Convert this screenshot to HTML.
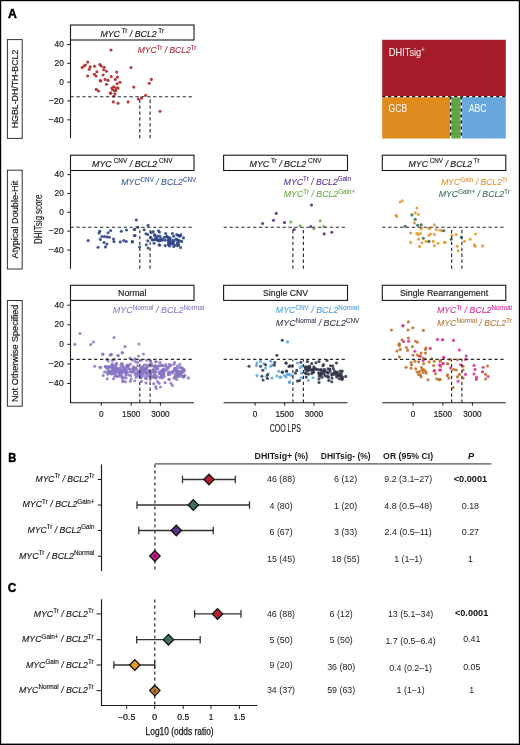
<!DOCTYPE html>
<html><head><meta charset="utf-8"><style>
html,body{margin:0;padding:0;background:#fff;}
svg{display:block;will-change:transform;}
text{font-family:"Liberation Sans", sans-serif;}
</style></head><body>
<svg width="520" height="745" viewBox="0 0 520 745">
<rect x="0" y="0" width="520" height="745" fill="#000"/>
<rect x="1.2" y="1.2" width="517.6" height="742.4" fill="#fff"/>
<text x="8.00" y="18.10" font-size="12.8" fill="#000" text-anchor="start" textLength="8.80" lengthAdjust="spacingAndGlyphs" font-weight="bold" stroke="#000" stroke-width="0.5"><tspan dy="0" font-style="normal">A</tspan></text>
<text x="8.20" y="461.50" font-size="12.8" fill="#000" text-anchor="start" textLength="8.00" lengthAdjust="spacingAndGlyphs" font-weight="bold" stroke="#000" stroke-width="0.5"><tspan dy="0" font-style="normal">B</tspan></text>
<text x="7.80" y="592.30" font-size="12.8" fill="#000" text-anchor="start" textLength="8.50" lengthAdjust="spacingAndGlyphs" font-weight="bold" stroke="#000" stroke-width="0.5"><tspan dy="0" font-style="normal">C</tspan></text>
<rect x="70.50" y="25.00" width="123.50" height="15.00" fill="#fff" stroke="#1a1a1a" stroke-width="1.1"/>
<text x="132.25" y="36.50" font-size="8.8" fill="#1a1a1a" text-anchor="middle" textLength="63.60" lengthAdjust="spacingAndGlyphs" stroke="#1a1a1a" stroke-width="0.15"><tspan dy="0" font-style="italic">MYC</tspan><tspan font-size="6.34" dy="-3.8" font-style="normal"> Tr</tspan><tspan dy="3.8" font-style="italic"> / BCL2</tspan><tspan font-size="6.34" dy="-3.8" font-style="normal"> Tr</tspan></text>
<line x1="70.50" y1="40.00" x2="70.50" y2="138.30" stroke="#1a1a1a" stroke-width="1.1"/>
<line x1="67.30" y1="44.50" x2="70.50" y2="44.50" stroke="#1a1a1a" stroke-width="1"/>
<text x="63.80" y="47.20" font-size="9.3" fill="#1a1a1a" text-anchor="end" textLength="9.20" lengthAdjust="spacingAndGlyphs" stroke="#1a1a1a" stroke-width="0.2"><tspan dy="0" font-style="normal">40</tspan></text>
<line x1="67.30" y1="63.33" x2="70.50" y2="63.33" stroke="#1a1a1a" stroke-width="1"/>
<text x="63.80" y="66.03" font-size="9.3" fill="#1a1a1a" text-anchor="end" textLength="9.20" lengthAdjust="spacingAndGlyphs" stroke="#1a1a1a" stroke-width="0.2"><tspan dy="0" font-style="normal">20</tspan></text>
<line x1="67.30" y1="82.15" x2="70.50" y2="82.15" stroke="#1a1a1a" stroke-width="1"/>
<text x="63.80" y="84.85" font-size="9.3" fill="#1a1a1a" text-anchor="end" textLength="4.60" lengthAdjust="spacingAndGlyphs" stroke="#1a1a1a" stroke-width="0.2"><tspan dy="0" font-style="normal">0</tspan></text>
<line x1="67.30" y1="100.97" x2="70.50" y2="100.97" stroke="#1a1a1a" stroke-width="1"/>
<text x="63.80" y="103.67" font-size="9.3" fill="#1a1a1a" text-anchor="end" textLength="15.20" lengthAdjust="spacingAndGlyphs" stroke="#1a1a1a" stroke-width="0.2"><tspan dy="0" font-style="normal">−20</tspan></text>
<line x1="67.30" y1="119.80" x2="70.50" y2="119.80" stroke="#1a1a1a" stroke-width="1"/>
<text x="63.80" y="122.50" font-size="9.3" fill="#1a1a1a" text-anchor="end" textLength="15.20" lengthAdjust="spacingAndGlyphs" stroke="#1a1a1a" stroke-width="0.2"><tspan dy="0" font-style="normal">−40</tspan></text>
<rect x="70.50" y="155.20" width="123.50" height="15.30" fill="#fff" stroke="#1a1a1a" stroke-width="1.1"/>
<text x="132.25" y="167.00" font-size="8.8" fill="#1a1a1a" text-anchor="middle" textLength="80.60" lengthAdjust="spacingAndGlyphs" stroke="#1a1a1a" stroke-width="0.15"><tspan dy="0" font-style="italic">MYC</tspan><tspan font-size="6.34" dy="-3.8" font-style="normal"> CNV</tspan><tspan dy="3.8" font-style="italic"> / BCL2</tspan><tspan font-size="6.34" dy="-3.8" font-style="normal"> CNV</tspan></text>
<rect x="223.60" y="155.20" width="123.90" height="15.30" fill="#fff" stroke="#1a1a1a" stroke-width="1.1"/>
<text x="285.55" y="167.00" font-size="8.8" fill="#1a1a1a" text-anchor="middle" textLength="72.00" lengthAdjust="spacingAndGlyphs" stroke="#1a1a1a" stroke-width="0.15"><tspan dy="0" font-style="italic">MYC</tspan><tspan font-size="6.34" dy="-3.8" font-style="normal"> Tr</tspan><tspan dy="3.8" font-style="italic"> / BCL2</tspan><tspan font-size="6.34" dy="-3.8" font-style="normal"> CNV</tspan></text>
<rect x="382.30" y="155.20" width="123.50" height="15.30" fill="#fff" stroke="#1a1a1a" stroke-width="1.1"/>
<text x="444.05" y="167.00" font-size="8.8" fill="#1a1a1a" text-anchor="middle" textLength="71.00" lengthAdjust="spacingAndGlyphs" stroke="#1a1a1a" stroke-width="0.15"><tspan dy="0" font-style="italic">MYC</tspan><tspan font-size="6.34" dy="-3.8" font-style="normal"> CNV</tspan><tspan dy="3.8" font-style="italic"> / BCL2</tspan><tspan font-size="6.34" dy="-3.8" font-style="normal"> Tr</tspan></text>
<line x1="70.50" y1="170.50" x2="70.50" y2="268.70" stroke="#1a1a1a" stroke-width="1.1"/>
<line x1="67.30" y1="174.60" x2="70.50" y2="174.60" stroke="#1a1a1a" stroke-width="1"/>
<text x="63.80" y="177.30" font-size="9.3" fill="#1a1a1a" text-anchor="end" textLength="9.20" lengthAdjust="spacingAndGlyphs" stroke="#1a1a1a" stroke-width="0.2"><tspan dy="0" font-style="normal">40</tspan></text>
<line x1="67.30" y1="193.45" x2="70.50" y2="193.45" stroke="#1a1a1a" stroke-width="1"/>
<text x="63.80" y="196.15" font-size="9.3" fill="#1a1a1a" text-anchor="end" textLength="9.20" lengthAdjust="spacingAndGlyphs" stroke="#1a1a1a" stroke-width="0.2"><tspan dy="0" font-style="normal">20</tspan></text>
<line x1="67.30" y1="212.30" x2="70.50" y2="212.30" stroke="#1a1a1a" stroke-width="1"/>
<text x="63.80" y="215.00" font-size="9.3" fill="#1a1a1a" text-anchor="end" textLength="4.60" lengthAdjust="spacingAndGlyphs" stroke="#1a1a1a" stroke-width="0.2"><tspan dy="0" font-style="normal">0</tspan></text>
<line x1="67.30" y1="231.15" x2="70.50" y2="231.15" stroke="#1a1a1a" stroke-width="1"/>
<text x="63.80" y="233.85" font-size="9.3" fill="#1a1a1a" text-anchor="end" textLength="15.20" lengthAdjust="spacingAndGlyphs" stroke="#1a1a1a" stroke-width="0.2"><tspan dy="0" font-style="normal">−20</tspan></text>
<line x1="67.30" y1="250.00" x2="70.50" y2="250.00" stroke="#1a1a1a" stroke-width="1"/>
<text x="63.80" y="252.70" font-size="9.3" fill="#1a1a1a" text-anchor="end" textLength="15.20" lengthAdjust="spacingAndGlyphs" stroke="#1a1a1a" stroke-width="0.2"><tspan dy="0" font-style="normal">−40</tspan></text>
<rect x="70.50" y="285.30" width="123.50" height="15.10" fill="#fff" stroke="#1a1a1a" stroke-width="1.1"/>
<text x="132.25" y="295.60" font-size="8.8" fill="#1a1a1a" text-anchor="middle" textLength="28.50" lengthAdjust="spacingAndGlyphs" stroke="#1a1a1a" stroke-width="0.15"><tspan dy="0" font-style="normal">Normal</tspan></text>
<rect x="223.60" y="285.30" width="123.90" height="15.10" fill="#fff" stroke="#1a1a1a" stroke-width="1.1"/>
<text x="285.55" y="295.60" font-size="8.8" fill="#1a1a1a" text-anchor="middle" textLength="45.00" lengthAdjust="spacingAndGlyphs" stroke="#1a1a1a" stroke-width="0.15"><tspan dy="0" font-style="normal">Single CNV</tspan></text>
<rect x="382.30" y="285.30" width="123.50" height="15.10" fill="#fff" stroke="#1a1a1a" stroke-width="1.1"/>
<text x="444.05" y="295.60" font-size="8.8" fill="#1a1a1a" text-anchor="middle" textLength="88.20" lengthAdjust="spacingAndGlyphs" stroke="#1a1a1a" stroke-width="0.15"><tspan dy="0" font-style="normal">Single Rearrangement</tspan></text>
<line x1="70.50" y1="300.40" x2="70.50" y2="403.20" stroke="#1a1a1a" stroke-width="1.1"/>
<line x1="67.30" y1="305.20" x2="70.50" y2="305.20" stroke="#1a1a1a" stroke-width="1"/>
<text x="63.80" y="307.90" font-size="9.3" fill="#1a1a1a" text-anchor="end" textLength="9.20" lengthAdjust="spacingAndGlyphs" stroke="#1a1a1a" stroke-width="0.2"><tspan dy="0" font-style="normal">40</tspan></text>
<line x1="67.30" y1="324.77" x2="70.50" y2="324.77" stroke="#1a1a1a" stroke-width="1"/>
<text x="63.80" y="327.47" font-size="9.3" fill="#1a1a1a" text-anchor="end" textLength="9.20" lengthAdjust="spacingAndGlyphs" stroke="#1a1a1a" stroke-width="0.2"><tspan dy="0" font-style="normal">20</tspan></text>
<line x1="67.30" y1="344.35" x2="70.50" y2="344.35" stroke="#1a1a1a" stroke-width="1"/>
<text x="63.80" y="347.05" font-size="9.3" fill="#1a1a1a" text-anchor="end" textLength="4.60" lengthAdjust="spacingAndGlyphs" stroke="#1a1a1a" stroke-width="0.2"><tspan dy="0" font-style="normal">0</tspan></text>
<line x1="67.30" y1="363.93" x2="70.50" y2="363.93" stroke="#1a1a1a" stroke-width="1"/>
<text x="63.80" y="366.62" font-size="9.3" fill="#1a1a1a" text-anchor="end" textLength="15.20" lengthAdjust="spacingAndGlyphs" stroke="#1a1a1a" stroke-width="0.2"><tspan dy="0" font-style="normal">−20</tspan></text>
<line x1="67.30" y1="383.50" x2="70.50" y2="383.50" stroke="#1a1a1a" stroke-width="1"/>
<text x="63.80" y="386.20" font-size="9.3" fill="#1a1a1a" text-anchor="end" textLength="15.20" lengthAdjust="spacingAndGlyphs" stroke="#1a1a1a" stroke-width="0.2"><tspan dy="0" font-style="normal">−40</tspan></text>
<line x1="70.50" y1="402.70" x2="194.00" y2="402.70" stroke="#1a1a1a" stroke-width="1.1"/>
<line x1="101.30" y1="402.70" x2="101.30" y2="405.70" stroke="#1a1a1a" stroke-width="1"/>
<text x="101.30" y="416.90" font-size="8.9" fill="#1a1a1a" text-anchor="middle" textLength="4.60" lengthAdjust="spacingAndGlyphs" stroke="#1a1a1a" stroke-width="0.2"><tspan dy="0" font-style="normal">0</tspan></text>
<line x1="131.20" y1="402.70" x2="131.20" y2="405.70" stroke="#1a1a1a" stroke-width="1"/>
<text x="131.20" y="416.90" font-size="8.9" fill="#1a1a1a" text-anchor="middle" textLength="18.20" lengthAdjust="spacingAndGlyphs" stroke="#1a1a1a" stroke-width="0.2"><tspan dy="0" font-style="normal">1500</tspan></text>
<line x1="160.40" y1="402.70" x2="160.40" y2="405.70" stroke="#1a1a1a" stroke-width="1"/>
<text x="160.40" y="416.90" font-size="8.9" fill="#1a1a1a" text-anchor="middle" textLength="18.20" lengthAdjust="spacingAndGlyphs" stroke="#1a1a1a" stroke-width="0.2"><tspan dy="0" font-style="normal">3000</tspan></text>
<line x1="223.60" y1="402.70" x2="347.50" y2="402.70" stroke="#1a1a1a" stroke-width="1.1"/>
<line x1="255.10" y1="402.70" x2="255.10" y2="405.70" stroke="#1a1a1a" stroke-width="1"/>
<text x="255.10" y="416.90" font-size="8.9" fill="#1a1a1a" text-anchor="middle" textLength="4.60" lengthAdjust="spacingAndGlyphs" stroke="#1a1a1a" stroke-width="0.2"><tspan dy="0" font-style="normal">0</tspan></text>
<line x1="284.60" y1="402.70" x2="284.60" y2="405.70" stroke="#1a1a1a" stroke-width="1"/>
<text x="284.60" y="416.90" font-size="8.9" fill="#1a1a1a" text-anchor="middle" textLength="18.20" lengthAdjust="spacingAndGlyphs" stroke="#1a1a1a" stroke-width="0.2"><tspan dy="0" font-style="normal">1500</tspan></text>
<line x1="313.90" y1="402.70" x2="313.90" y2="405.70" stroke="#1a1a1a" stroke-width="1"/>
<text x="313.90" y="416.90" font-size="8.9" fill="#1a1a1a" text-anchor="middle" textLength="18.20" lengthAdjust="spacingAndGlyphs" stroke="#1a1a1a" stroke-width="0.2"><tspan dy="0" font-style="normal">3000</tspan></text>
<line x1="382.30" y1="402.70" x2="505.80" y2="402.70" stroke="#1a1a1a" stroke-width="1.1"/>
<line x1="413.10" y1="402.70" x2="413.10" y2="405.70" stroke="#1a1a1a" stroke-width="1"/>
<text x="413.10" y="416.90" font-size="8.9" fill="#1a1a1a" text-anchor="middle" textLength="4.60" lengthAdjust="spacingAndGlyphs" stroke="#1a1a1a" stroke-width="0.2"><tspan dy="0" font-style="normal">0</tspan></text>
<line x1="442.90" y1="402.70" x2="442.90" y2="405.70" stroke="#1a1a1a" stroke-width="1"/>
<text x="442.90" y="416.90" font-size="8.9" fill="#1a1a1a" text-anchor="middle" textLength="18.20" lengthAdjust="spacingAndGlyphs" stroke="#1a1a1a" stroke-width="0.2"><tspan dy="0" font-style="normal">1500</tspan></text>
<line x1="472.40" y1="402.70" x2="472.40" y2="405.70" stroke="#1a1a1a" stroke-width="1"/>
<text x="472.40" y="416.90" font-size="8.9" fill="#1a1a1a" text-anchor="middle" textLength="18.20" lengthAdjust="spacingAndGlyphs" stroke="#1a1a1a" stroke-width="0.2"><tspan dy="0" font-style="normal">3000</tspan></text>
<text x="285.30" y="431.70" font-size="10.0" fill="#1a1a1a" text-anchor="middle" textLength="31.00" lengthAdjust="spacingAndGlyphs" stroke="#1a1a1a" stroke-width="0.15"><tspan dy="0" font-style="normal">COO LPS</tspan></text>
<rect x="7.40" y="39.60" width="14.80" height="98.80" fill="none" stroke="#333" stroke-width="1.0"/>
<text transform="translate(18.10,89.00) rotate(-90)" font-size="9.2" fill="#1a1a1a" stroke="#1a1a1a" stroke-width="0.2" text-anchor="middle" textLength="78.6" lengthAdjust="spacingAndGlyphs">HGBL-DH/TH-BCL2</text>
<rect x="7.40" y="170.20" width="14.80" height="98.80" fill="none" stroke="#333" stroke-width="1.0"/>
<text transform="translate(18.10,219.60) rotate(-90)" font-size="9.2" fill="#1a1a1a" stroke="#1a1a1a" stroke-width="0.2" text-anchor="middle" textLength="77.6" lengthAdjust="spacingAndGlyphs">Atypical Double-Hit</text>
<rect x="7.40" y="300.50" width="14.80" height="105.70" fill="none" stroke="#333" stroke-width="1.0"/>
<text transform="translate(18.10,353.35) rotate(-90)" font-size="9.2" fill="#1a1a1a" stroke="#1a1a1a" stroke-width="0.2" text-anchor="middle" textLength="97.3" lengthAdjust="spacingAndGlyphs">Not Otherwise Specified</text>
<text transform="translate(41.80,219.30) rotate(-90)" font-size="10.2" fill="#1a1a1a" stroke="#1a1a1a" stroke-width="0.15" text-anchor="middle" textLength="49.4" lengthAdjust="spacingAndGlyphs">DHITsig score</text>
<rect x="382.20" y="39.80" width="123.60" height="56.80" fill="#a51b2a" stroke="none" stroke-width="1"/>
<rect x="382.20" y="96.60" width="68.50" height="41.90" fill="#dd8a1f" stroke="none" stroke-width="1"/>
<rect x="450.70" y="96.60" width="10.60" height="41.90" fill="#60a646" stroke="none" stroke-width="1"/>
<rect x="461.30" y="96.60" width="44.50" height="41.90" fill="#6aa7dc" stroke="none" stroke-width="1"/>
<line x1="382.20" y1="96.60" x2="505.80" y2="96.60" stroke="#fff" stroke-width="1.4"/>
<line x1="382.20" y1="96.60" x2="505.80" y2="96.60" stroke="#111" stroke-width="1.4" stroke-dasharray="3,3"/>
<line x1="450.70" y1="96.60" x2="450.70" y2="138.50" stroke="#fff" stroke-width="1.4"/>
<line x1="450.70" y1="96.60" x2="450.70" y2="138.50" stroke="#111" stroke-width="1.4" stroke-dasharray="3,3"/>
<line x1="461.30" y1="96.60" x2="461.30" y2="138.50" stroke="#fff" stroke-width="1.4"/>
<line x1="461.30" y1="96.60" x2="461.30" y2="138.50" stroke="#111" stroke-width="1.4" stroke-dasharray="3,3"/>
<text x="388.80" y="55.80" font-size="10.4" fill="#fff" text-anchor="start" textLength="36.00" lengthAdjust="spacingAndGlyphs"><tspan dy="0" font-style="normal">DHITsig</tspan><tspan font-size="6.76" dy="-3.6" font-style="normal">+</tspan></text>
<text x="388.60" y="111.80" font-size="10.0" fill="#fff" text-anchor="start" textLength="18.50" lengthAdjust="spacingAndGlyphs"><tspan dy="0" font-style="normal">GCB</tspan></text>
<text x="468.80" y="111.60" font-size="10.0" fill="#fff" text-anchor="start" textLength="17.80" lengthAdjust="spacingAndGlyphs"><tspan dy="0" font-style="normal">ABC</tspan></text>
<line x1="101.50" y1="464.50" x2="101.50" y2="571.10" stroke="#1a1a1a" stroke-width="1.15"/>
<line x1="97.90" y1="479.50" x2="101.50" y2="479.50" stroke="#1a1a1a" stroke-width="1"/>
<line x1="97.90" y1="505.00" x2="101.50" y2="505.00" stroke="#1a1a1a" stroke-width="1"/>
<line x1="97.90" y1="530.50" x2="101.50" y2="530.50" stroke="#1a1a1a" stroke-width="1"/>
<line x1="97.90" y1="556.20" x2="101.50" y2="556.20" stroke="#1a1a1a" stroke-width="1"/>
<line x1="155.00" y1="463.80" x2="491.40" y2="463.80" stroke="#555" stroke-width="1.3"/>
<line x1="182.50" y1="479.50" x2="235.30" y2="479.50" stroke="#333" stroke-width="1.3"/>
<line x1="182.50" y1="475.70" x2="182.50" y2="483.30" stroke="#333" stroke-width="1.3"/>
<line x1="235.30" y1="475.70" x2="235.30" y2="483.30" stroke="#333" stroke-width="1.3"/>
<path d="M209.00,474.20 L214.20,479.50 L209.00,484.80 L203.80,479.50 Z" fill="#b3202f" stroke="#111" stroke-width="1.3" stroke-linejoin="miter"/>
<line x1="137.00" y1="505.00" x2="249.50" y2="505.00" stroke="#333" stroke-width="1.3"/>
<line x1="137.00" y1="501.20" x2="137.00" y2="508.80" stroke="#333" stroke-width="1.3"/>
<line x1="249.50" y1="501.20" x2="249.50" y2="508.80" stroke="#333" stroke-width="1.3"/>
<path d="M193.30,499.70 L198.50,505.00 L193.30,510.30 L188.10,505.00 Z" fill="#3d7256" stroke="#111" stroke-width="1.3" stroke-linejoin="miter"/>
<line x1="138.80" y1="530.50" x2="213.30" y2="530.50" stroke="#333" stroke-width="1.3"/>
<line x1="138.80" y1="526.70" x2="138.80" y2="534.30" stroke="#333" stroke-width="1.3"/>
<line x1="213.30" y1="526.70" x2="213.30" y2="534.30" stroke="#333" stroke-width="1.3"/>
<path d="M176.30,525.20 L181.50,530.50 L176.30,535.80 L171.10,530.50 Z" fill="#5c3187" stroke="#111" stroke-width="1.3" stroke-linejoin="miter"/>
<path d="M154.90,550.70 L160.10,556.00 L154.90,561.30 L149.70,556.00 Z" fill="#d0198f" stroke="#111" stroke-width="1.3" stroke-linejoin="miter"/>
<line x1="154.90" y1="464.50" x2="154.90" y2="571.40" stroke="#1a1a1a" stroke-width="1.15" stroke-dasharray="3,3"/>
<text x="94.40" y="481.70" font-size="9.0" fill="#111" text-anchor="end" textLength="58.90" lengthAdjust="spacingAndGlyphs" stroke="#111" stroke-width="0.12"><tspan dy="0" font-style="italic">MYC</tspan><tspan font-size="6.48" dy="-3.4" font-style="normal">Tr</tspan><tspan dy="3.4" font-style="italic"> / BCL2</tspan><tspan font-size="6.48" dy="-3.4" font-style="normal">Tr</tspan></text>
<text x="94.40" y="507.40" font-size="9.0" fill="#111" text-anchor="end" textLength="71.90" lengthAdjust="spacingAndGlyphs" stroke="#111" stroke-width="0.12"><tspan dy="0" font-style="italic">MYC</tspan><tspan font-size="6.48" dy="-3.4" font-style="normal">Tr</tspan><tspan dy="3.4" font-style="italic"> / BCL2</tspan><tspan font-size="6.48" dy="-3.4" font-style="normal">Gain+</tspan></text>
<text x="94.40" y="532.70" font-size="9.0" fill="#111" text-anchor="end" textLength="66.90" lengthAdjust="spacingAndGlyphs" stroke="#111" stroke-width="0.12"><tspan dy="0" font-style="italic">MYC</tspan><tspan font-size="6.48" dy="-3.4" font-style="normal">Tr</tspan><tspan dy="3.4" font-style="italic"> / BCL2</tspan><tspan font-size="6.48" dy="-3.4" font-style="normal">Gain</tspan></text>
<text x="94.40" y="558.50" font-size="9.0" fill="#111" text-anchor="end" textLength="75.40" lengthAdjust="spacingAndGlyphs" stroke="#111" stroke-width="0.12"><tspan dy="0" font-style="italic">MYC</tspan><tspan font-size="6.48" dy="-3.4" font-style="normal">Tr</tspan><tspan dy="3.4" font-style="italic"> / BCL2</tspan><tspan font-size="6.48" dy="-3.4" font-style="normal">Normal</tspan></text>
<text x="281.40" y="458.50" font-size="8.7" fill="#1a1a1a" text-anchor="middle" textLength="53.60" lengthAdjust="spacingAndGlyphs" font-weight="bold"><tspan dy="0" font-style="normal">DHITsig+ (%)</tspan></text>
<text x="345.70" y="458.50" font-size="8.7" fill="#1a1a1a" text-anchor="middle" textLength="49.90" lengthAdjust="spacingAndGlyphs" font-weight="bold"><tspan dy="0" font-style="normal">DHITsig- (%)</tspan></text>
<text x="408.10" y="458.50" font-size="8.7" fill="#1a1a1a" text-anchor="middle" textLength="50.00" lengthAdjust="spacingAndGlyphs" font-weight="bold"><tspan dy="0" font-style="normal">OR (95% CI)</tspan></text>
<text x="471.10" y="458.50" font-size="9.2" fill="#111" text-anchor="middle" font-style="italic" font-weight="bold"><tspan dy="0" font-style="italic">P</tspan></text>
<text x="281.10" y="482.40" font-size="8.9" fill="#222" text-anchor="middle"><tspan dy="0" font-style="normal">46 (88)</tspan></text>
<text x="345.60" y="482.40" font-size="8.9" fill="#222" text-anchor="middle"><tspan dy="0" font-style="normal">6 (12)</tspan></text>
<text x="408.20" y="482.40" font-size="8.9" fill="#222" text-anchor="middle"><tspan dy="0" font-style="normal">9.2 (3.1–27)</tspan></text>
<text x="470.40" y="482.40" font-size="9.0" fill="#111" text-anchor="middle" textLength="33.40" lengthAdjust="spacingAndGlyphs" font-weight="bold"><tspan dy="0" font-style="normal">&lt;0.0001</tspan></text>
<text x="281.10" y="508.80" font-size="8.9" fill="#222" text-anchor="middle"><tspan dy="0" font-style="normal">4 (80)</tspan></text>
<text x="345.60" y="508.80" font-size="8.9" fill="#222" text-anchor="middle"><tspan dy="0" font-style="normal">1 (20)</tspan></text>
<text x="408.20" y="508.80" font-size="8.9" fill="#222" text-anchor="middle"><tspan dy="0" font-style="normal">4.8 (0.5–48)</tspan></text>
<text x="470.40" y="508.80" font-size="8.9" fill="#222" text-anchor="middle"><tspan dy="0" font-style="normal">0.18</tspan></text>
<text x="281.10" y="535.40" font-size="8.9" fill="#222" text-anchor="middle"><tspan dy="0" font-style="normal">6 (67)</tspan></text>
<text x="345.60" y="535.40" font-size="8.9" fill="#222" text-anchor="middle"><tspan dy="0" font-style="normal">3 (33)</tspan></text>
<text x="408.20" y="535.40" font-size="8.9" fill="#222" text-anchor="middle"><tspan dy="0" font-style="normal">2.4 (0.5–11)</tspan></text>
<text x="470.40" y="535.40" font-size="8.9" fill="#222" text-anchor="middle"><tspan dy="0" font-style="normal">0.27</tspan></text>
<text x="281.10" y="561.70" font-size="8.9" fill="#222" text-anchor="middle"><tspan dy="0" font-style="normal">15 (45)</tspan></text>
<text x="345.60" y="561.70" font-size="8.9" fill="#222" text-anchor="middle"><tspan dy="0" font-style="normal">18 (55)</tspan></text>
<text x="408.20" y="561.70" font-size="8.9" fill="#222" text-anchor="middle"><tspan dy="0" font-style="normal">1 (1–1)</tspan></text>
<text x="470.40" y="561.70" font-size="8.9" fill="#222" text-anchor="middle"><tspan dy="0" font-style="normal">1</tspan></text>
<line x1="101.50" y1="599.30" x2="101.50" y2="706.00" stroke="#1a1a1a" stroke-width="1.15"/>
<line x1="101.00" y1="705.50" x2="257.40" y2="705.50" stroke="#1a1a1a" stroke-width="1.15"/>
<line x1="96.60" y1="613.90" x2="101.50" y2="613.90" stroke="#1a1a1a" stroke-width="1"/>
<line x1="96.60" y1="639.70" x2="101.50" y2="639.70" stroke="#1a1a1a" stroke-width="1"/>
<line x1="96.60" y1="665.00" x2="101.50" y2="665.00" stroke="#1a1a1a" stroke-width="1"/>
<line x1="96.60" y1="690.60" x2="101.50" y2="690.60" stroke="#1a1a1a" stroke-width="1"/>
<line x1="194.60" y1="613.90" x2="241.00" y2="613.90" stroke="#333" stroke-width="1.3"/>
<line x1="194.60" y1="610.10" x2="194.60" y2="617.70" stroke="#333" stroke-width="1.3"/>
<line x1="241.00" y1="610.10" x2="241.00" y2="617.70" stroke="#333" stroke-width="1.3"/>
<path d="M217.50,608.60 L222.70,613.90 L217.50,619.20 L212.30,613.90 Z" fill="#b3202f" stroke="#111" stroke-width="1.3" stroke-linejoin="miter"/>
<line x1="136.70" y1="639.70" x2="200.20" y2="639.70" stroke="#333" stroke-width="1.3"/>
<line x1="136.70" y1="635.90" x2="136.70" y2="643.50" stroke="#333" stroke-width="1.3"/>
<line x1="200.20" y1="635.90" x2="200.20" y2="643.50" stroke="#333" stroke-width="1.3"/>
<path d="M168.50,634.40 L173.70,639.70 L168.50,645.00 L163.30,639.70 Z" fill="#3d7256" stroke="#111" stroke-width="1.3" stroke-linejoin="miter"/>
<line x1="113.90" y1="665.00" x2="154.70" y2="665.00" stroke="#333" stroke-width="1.3"/>
<line x1="113.90" y1="661.20" x2="113.90" y2="668.80" stroke="#333" stroke-width="1.3"/>
<line x1="154.70" y1="661.20" x2="154.70" y2="668.80" stroke="#333" stroke-width="1.3"/>
<path d="M134.80,659.70 L140.00,665.00 L134.80,670.30 L129.60,665.00 Z" fill="#e69a25" stroke="#111" stroke-width="1.3" stroke-linejoin="miter"/>
<path d="M154.80,685.30 L160.00,690.60 L154.80,695.90 L149.60,690.60 Z" fill="#c47d26" stroke="#111" stroke-width="1.3" stroke-linejoin="miter"/>
<line x1="154.80" y1="599.50" x2="154.80" y2="705.50" stroke="#1a1a1a" stroke-width="1.15" stroke-dasharray="3,3"/>
<line x1="126.60" y1="705.50" x2="126.60" y2="708.90" stroke="#1a1a1a" stroke-width="1"/>
<text x="126.60" y="720.30" font-size="8.8" fill="#111" text-anchor="middle" textLength="17.50" lengthAdjust="spacingAndGlyphs" stroke="#111" stroke-width="0.2"><tspan dy="0" font-style="normal">−0.5</tspan></text>
<line x1="154.70" y1="705.50" x2="154.70" y2="708.90" stroke="#1a1a1a" stroke-width="1"/>
<text x="154.70" y="720.30" font-size="8.8" fill="#111" text-anchor="middle" textLength="5.20" lengthAdjust="spacingAndGlyphs" stroke="#111" stroke-width="0.2"><tspan dy="0" font-style="normal">0</tspan></text>
<line x1="183.20" y1="705.50" x2="183.20" y2="708.90" stroke="#1a1a1a" stroke-width="1"/>
<text x="183.20" y="720.30" font-size="8.8" fill="#111" text-anchor="middle" textLength="12.00" lengthAdjust="spacingAndGlyphs" stroke="#111" stroke-width="0.2"><tspan dy="0" font-style="normal">0.5</tspan></text>
<line x1="211.00" y1="705.50" x2="211.00" y2="708.90" stroke="#1a1a1a" stroke-width="1"/>
<text x="211.00" y="720.30" font-size="8.8" fill="#111" text-anchor="middle" textLength="4.50" lengthAdjust="spacingAndGlyphs" stroke="#111" stroke-width="0.2"><tspan dy="0" font-style="normal">1</tspan></text>
<line x1="239.40" y1="705.50" x2="239.40" y2="708.90" stroke="#1a1a1a" stroke-width="1"/>
<text x="239.40" y="720.30" font-size="8.8" fill="#111" text-anchor="middle" textLength="12.00" lengthAdjust="spacingAndGlyphs" stroke="#111" stroke-width="0.2"><tspan dy="0" font-style="normal">1.5</tspan></text>
<text x="179.60" y="734.60" font-size="10.4" fill="#111" text-anchor="middle" textLength="68.00" lengthAdjust="spacingAndGlyphs" stroke="#111" stroke-width="0.25"><tspan dy="0" font-style="normal">Log10 (odds ratio)</tspan></text>
<text x="93.60" y="616.60" font-size="9.0" fill="#111" text-anchor="end" textLength="59.80" lengthAdjust="spacingAndGlyphs" stroke="#111" stroke-width="0.12"><tspan dy="0" font-style="italic">MYC</tspan><tspan font-size="6.48" dy="-3.4" font-style="normal">Tr</tspan><tspan dy="3.4" font-style="italic"> / BCL2</tspan><tspan font-size="6.48" dy="-3.4" font-style="normal">Tr</tspan></text>
<text x="93.60" y="642.10" font-size="9.0" fill="#111" text-anchor="end" textLength="71.60" lengthAdjust="spacingAndGlyphs" stroke="#111" stroke-width="0.12"><tspan dy="0" font-style="italic">MYC</tspan><tspan font-size="6.48" dy="-3.4" font-style="normal">Gain+</tspan><tspan dy="3.4" font-style="italic"> / BCL2</tspan><tspan font-size="6.48" dy="-3.4" font-style="normal">Tr</tspan></text>
<text x="93.60" y="667.70" font-size="9.0" fill="#111" text-anchor="end" textLength="67.60" lengthAdjust="spacingAndGlyphs" stroke="#111" stroke-width="0.12"><tspan dy="0" font-style="italic">MYC</tspan><tspan font-size="6.48" dy="-3.4" font-style="normal">Gain</tspan><tspan dy="3.4" font-style="italic"> / BCL2</tspan><tspan font-size="6.48" dy="-3.4" font-style="normal">Tr</tspan></text>
<text x="93.60" y="692.80" font-size="9.0" fill="#111" text-anchor="end" textLength="74.60" lengthAdjust="spacingAndGlyphs" stroke="#111" stroke-width="0.12"><tspan dy="0" font-style="italic">MYC</tspan><tspan font-size="6.48" dy="-3.4" font-style="normal">Normal</tspan><tspan dy="3.4" font-style="italic"> / BCL2</tspan><tspan font-size="6.48" dy="-3.4" font-style="normal">Tr</tspan></text>
<text x="281.00" y="616.50" font-size="8.9" fill="#222" text-anchor="middle"><tspan dy="0" font-style="normal">46 (88)</tspan></text>
<text x="341.20" y="617.30" font-size="8.9" fill="#222" text-anchor="middle"><tspan dy="0" font-style="normal">6 (12)</tspan></text>
<text x="410.60" y="616.50" font-size="8.9" fill="#222" text-anchor="middle"><tspan dy="0" font-style="normal">13 (5.1–34)</tspan></text>
<text x="471.60" y="616.30" font-size="9.0" fill="#111" text-anchor="middle" textLength="33.30" lengthAdjust="spacingAndGlyphs" font-weight="bold"><tspan dy="0" font-style="normal">&lt;0.0001</tspan></text>
<text x="281.00" y="642.50" font-size="8.9" fill="#222" text-anchor="middle"><tspan dy="0" font-style="normal">5 (50)</tspan></text>
<text x="341.20" y="643.30" font-size="8.9" fill="#222" text-anchor="middle"><tspan dy="0" font-style="normal">5 (50)</tspan></text>
<text x="410.60" y="644.30" font-size="8.9" fill="#222" text-anchor="middle"><tspan dy="0" font-style="normal">1.7 (0.5–6.4)</tspan></text>
<text x="471.80" y="642.20" font-size="8.9" fill="#222" text-anchor="middle"><tspan dy="0" font-style="normal">0.41</tspan></text>
<text x="281.00" y="667.60" font-size="8.9" fill="#222" text-anchor="middle"><tspan dy="0" font-style="normal">9 (20)</tspan></text>
<text x="341.20" y="669.80" font-size="8.9" fill="#222" text-anchor="middle"><tspan dy="0" font-style="normal">36 (80)</tspan></text>
<text x="410.60" y="670.60" font-size="8.9" fill="#222" text-anchor="middle"><tspan dy="0" font-style="normal">0.4 (0.2–1)</tspan></text>
<text x="471.80" y="669.80" font-size="8.9" fill="#222" text-anchor="middle"><tspan dy="0" font-style="normal">0.05</tspan></text>
<text x="281.00" y="693.00" font-size="8.9" fill="#222" text-anchor="middle"><tspan dy="0" font-style="normal">34 (37)</tspan></text>
<text x="341.20" y="693.00" font-size="8.9" fill="#222" text-anchor="middle"><tspan dy="0" font-style="normal">59 (63)</tspan></text>
<text x="410.60" y="693.00" font-size="8.9" fill="#222" text-anchor="middle"><tspan dy="0" font-style="normal">1 (1–1)</tspan></text>
<text x="471.80" y="693.00" font-size="8.9" fill="#222" text-anchor="middle"><tspan dy="0" font-style="normal">1</tspan></text>
<g fill="#b02a2a" fill-opacity="0.92"><circle cx="111.0" cy="50.0" r="1.55"/><circle cx="87.7" cy="62.1" r="1.55"/><circle cx="85.4" cy="65.0" r="1.55"/><circle cx="84.0" cy="66.0" r="1.55"/><circle cx="82.1" cy="67.5" r="1.55"/><circle cx="90.2" cy="66.9" r="1.55"/><circle cx="89.2" cy="69.2" r="1.55"/><circle cx="94.6" cy="66.3" r="1.55"/><circle cx="99.8" cy="64.6" r="1.55"/><circle cx="101.2" cy="66.0" r="1.55"/><circle cx="104.2" cy="67.3" r="1.55"/><circle cx="103.7" cy="69.8" r="1.55"/><circle cx="106.5" cy="71.3" r="1.55"/><circle cx="96.9" cy="71.7" r="1.55"/><circle cx="87.7" cy="76.0" r="1.55"/><circle cx="94.4" cy="74.2" r="1.55"/><circle cx="96.0" cy="76.0" r="1.55"/><circle cx="103.1" cy="75.0" r="1.55"/><circle cx="116.7" cy="72.1" r="1.55"/><circle cx="111.3" cy="76.5" r="1.55"/><circle cx="117.5" cy="77.1" r="1.55"/><circle cx="115.2" cy="79.4" r="1.55"/><circle cx="100.8" cy="81.0" r="1.55"/><circle cx="100.2" cy="80.6" r="1.55"/><circle cx="105.2" cy="79.4" r="1.55"/><circle cx="108.1" cy="80.4" r="1.55"/><circle cx="106.5" cy="84.2" r="1.55"/><circle cx="117.1" cy="83.8" r="1.55"/><circle cx="120.0" cy="82.3" r="1.55"/><circle cx="96.3" cy="89.4" r="1.55"/><circle cx="98.5" cy="91.0" r="1.55"/><circle cx="113.8" cy="86.7" r="1.55"/><circle cx="111.9" cy="88.1" r="1.55"/><circle cx="116.2" cy="88.1" r="1.55"/><circle cx="118.1" cy="88.1" r="1.55"/><circle cx="114.6" cy="91.0" r="1.55"/><circle cx="110.4" cy="92.9" r="1.55"/><circle cx="113.8" cy="96.2" r="1.55"/><circle cx="115.6" cy="90.4" r="1.55"/><circle cx="131.0" cy="67.5" r="1.55"/><circle cx="133.8" cy="87.1" r="1.55"/><circle cx="151.3" cy="79.4" r="1.55"/><circle cx="149.2" cy="83.3" r="1.55"/><circle cx="145.6" cy="95.2" r="1.55"/><circle cx="138.3" cy="99.0" r="1.55"/><circle cx="141.5" cy="98.1" r="1.55"/><circle cx="113.3" cy="101.9" r="1.55"/><circle cx="118.1" cy="103.3" r="1.55"/><circle cx="128.1" cy="101.9" r="1.55"/><circle cx="160.0" cy="111.3" r="1.55"/><circle cx="110.8" cy="93.3" r="1.55"/><circle cx="112.5" cy="89.5" r="1.55"/><circle cx="115.0" cy="94.0" r="1.55"/></g>
<g fill="#2e4788" fill-opacity="0.9"><circle cx="88.1" cy="240.6" r="1.55"/><circle cx="99.8" cy="231.3" r="1.55"/><circle cx="99.0" cy="233.1" r="1.55"/><circle cx="108.1" cy="232.8" r="1.55"/><circle cx="110.6" cy="230.6" r="1.55"/><circle cx="121.3" cy="231.3" r="1.55"/><circle cx="126.5" cy="230.0" r="1.55"/><circle cx="134.4" cy="229.4" r="1.55"/><circle cx="101.9" cy="236.5" r="1.55"/><circle cx="104.4" cy="236.5" r="1.55"/><circle cx="106.9" cy="236.9" r="1.55"/><circle cx="109.4" cy="237.3" r="1.55"/><circle cx="100.3" cy="239.4" r="1.55"/><circle cx="113.5" cy="239.0" r="1.55"/><circle cx="114.0" cy="241.5" r="1.55"/><circle cx="120.3" cy="241.9" r="1.55"/><circle cx="123.8" cy="240.6" r="1.55"/><circle cx="126.3" cy="241.5" r="1.55"/><circle cx="132.3" cy="241.9" r="1.55"/><circle cx="104.0" cy="242.5" r="1.55"/><circle cx="106.9" cy="244.0" r="1.55"/><circle cx="98.1" cy="247.3" r="1.55"/><circle cx="105.4" cy="246.9" r="1.55"/><circle cx="134.4" cy="235.6" r="1.55"/><circle cx="136.3" cy="219.9" r="1.55"/><circle cx="137.7" cy="227.3" r="1.55"/><circle cx="134.6" cy="229.5" r="1.55"/><circle cx="148.1" cy="225.4" r="1.55"/><circle cx="144.2" cy="229.7" r="1.55"/><circle cx="135.0" cy="235.5" r="1.55"/><circle cx="132.4" cy="241.5" r="1.55"/><circle cx="145.9" cy="233.8" r="1.55"/><circle cx="147.8" cy="234.5" r="1.55"/><circle cx="147.8" cy="240.8" r="1.55"/><circle cx="146.3" cy="244.8" r="1.55"/><circle cx="139.6" cy="247.0" r="1.55"/><circle cx="148.1" cy="248.0" r="1.55"/><circle cx="153.2" cy="231.6" r="1.55"/><circle cx="158.5" cy="230.7" r="1.55"/><circle cx="159.4" cy="232.1" r="1.55"/><circle cx="165.7" cy="233.5" r="1.55"/><circle cx="172.4" cy="233.5" r="1.55"/><circle cx="178.2" cy="235.5" r="1.55"/><circle cx="183.5" cy="237.9" r="1.55"/><circle cx="154.6" cy="234.5" r="1.55"/><circle cx="150.8" cy="237.4" r="1.55"/><circle cx="152.2" cy="239.8" r="1.55"/><circle cx="156.5" cy="237.9" r="1.55"/><circle cx="159.9" cy="236.4" r="1.55"/><circle cx="161.3" cy="238.8" r="1.55"/><circle cx="158.5" cy="240.8" r="1.55"/><circle cx="154.1" cy="243.2" r="1.55"/><circle cx="164.2" cy="237.4" r="1.55"/><circle cx="167.1" cy="236.4" r="1.55"/><circle cx="168.1" cy="239.8" r="1.55"/><circle cx="170.0" cy="237.9" r="1.55"/><circle cx="169.0" cy="242.7" r="1.55"/><circle cx="165.2" cy="245.6" r="1.55"/><circle cx="169.5" cy="246.0" r="1.55"/><circle cx="173.8" cy="241.2" r="1.55"/><circle cx="175.8" cy="239.3" r="1.55"/><circle cx="177.7" cy="242.2" r="1.55"/><circle cx="179.6" cy="240.8" r="1.55"/><circle cx="174.8" cy="245.1" r="1.55"/><circle cx="178.7" cy="245.1" r="1.55"/><circle cx="180.6" cy="247.5" r="1.55"/><circle cx="173.8" cy="246.5" r="1.55"/><circle cx="172.9" cy="243.2" r="1.55"/><circle cx="157.6" cy="236.1" r="1.55"/><circle cx="169.3" cy="238.2" r="1.55"/><circle cx="170.0" cy="239.5" r="1.55"/><circle cx="176.8" cy="239.2" r="1.55"/><circle cx="158.3" cy="240.0" r="1.55"/><circle cx="176.8" cy="234.6" r="1.55"/><circle cx="154.8" cy="239.7" r="1.55"/><circle cx="170.3" cy="241.6" r="1.55"/><circle cx="173.7" cy="236.2" r="1.55"/><circle cx="171.5" cy="243.9" r="1.55"/><circle cx="168.9" cy="241.1" r="1.55"/><circle cx="159.6" cy="245.2" r="1.55"/><circle cx="165.1" cy="240.2" r="1.55"/><circle cx="173.0" cy="242.6" r="1.55"/><circle cx="179.5" cy="235.6" r="1.55"/><circle cx="162.6" cy="240.1" r="1.55"/><circle cx="179.9" cy="235.8" r="1.55"/><circle cx="178.1" cy="240.4" r="1.55"/><circle cx="156.9" cy="240.0" r="1.55"/><circle cx="180.9" cy="234.9" r="1.55"/><circle cx="159.6" cy="240.7" r="1.55"/><circle cx="166.2" cy="236.8" r="1.55"/><circle cx="168.7" cy="240.9" r="1.55"/><circle cx="168.7" cy="242.9" r="1.55"/><circle cx="179.7" cy="236.3" r="1.55"/><circle cx="177.4" cy="243.7" r="1.55"/><circle cx="155.2" cy="238.7" r="1.55"/><circle cx="177.5" cy="245.7" r="1.55"/><circle cx="168.2" cy="237.5" r="1.55"/><circle cx="172.8" cy="240.4" r="1.55"/><circle cx="168.4" cy="244.8" r="1.55"/><circle cx="159.1" cy="244.7" r="1.55"/><circle cx="181.7" cy="241.4" r="1.55"/><circle cx="152.8" cy="240.0" r="1.55"/><circle cx="154.8" cy="235.9" r="1.55"/><circle cx="159.4" cy="239.8" r="1.55"/><circle cx="151.4" cy="232.6" r="1.55"/><circle cx="169.7" cy="243.8" r="1.55"/><circle cx="160.6" cy="240.4" r="1.55"/><circle cx="178.2" cy="242.7" r="1.55"/></g>
<g fill="#5a2d86" fill-opacity="0.9"><circle cx="262.6" cy="223.5" r="1.55"/><circle cx="273.5" cy="220.3" r="1.55"/><circle cx="276.2" cy="213.4" r="1.55"/><circle cx="284.5" cy="222.6" r="1.55"/><circle cx="294.2" cy="229.5" r="1.55"/><circle cx="311.5" cy="205.1" r="1.55"/><circle cx="310.8" cy="226.5" r="1.55"/><circle cx="324.2" cy="233.9" r="1.55"/><circle cx="331.8" cy="232.3" r="1.55"/></g>
<g fill="#6db04e" fill-opacity="0.9"><circle cx="290.8" cy="221.9" r="1.55"/><circle cx="300.0" cy="225.8" r="1.55"/><circle cx="313.8" cy="228.8" r="1.55"/><circle cx="320.3" cy="220.8" r="1.55"/><circle cx="323.8" cy="226.5" r="1.55"/></g>
<g fill="#e39a2e" fill-opacity="0.88"><circle cx="400.1" cy="202.0" r="1.55"/><circle cx="402.4" cy="200.7" r="1.55"/><circle cx="396.1" cy="215.2" r="1.55"/><circle cx="396.7" cy="216.5" r="1.55"/><circle cx="416.9" cy="208.1" r="1.55"/><circle cx="415.3" cy="212.9" r="1.55"/><circle cx="418.5" cy="214.5" r="1.55"/><circle cx="414.5" cy="222.9" r="1.55"/><circle cx="434.4" cy="224.9" r="1.55"/><circle cx="421.6" cy="228.0" r="1.55"/><circle cx="421.0" cy="228.9" r="1.55"/><circle cx="428.4" cy="228.0" r="1.55"/><circle cx="429.7" cy="228.6" r="1.55"/><circle cx="436.4" cy="229.7" r="1.55"/><circle cx="440.1" cy="230.3" r="1.55"/><circle cx="441.8" cy="230.7" r="1.55"/><circle cx="410.5" cy="233.0" r="1.55"/><circle cx="416.9" cy="233.4" r="1.55"/><circle cx="418.3" cy="234.7" r="1.55"/><circle cx="420.3" cy="233.4" r="1.55"/><circle cx="430.4" cy="234.0" r="1.55"/><circle cx="429.0" cy="235.4" r="1.55"/><circle cx="434.4" cy="234.4" r="1.55"/><circle cx="452.1" cy="235.2" r="1.55"/><circle cx="456.2" cy="234.4" r="1.55"/><circle cx="418.5" cy="239.1" r="1.55"/><circle cx="426.1" cy="241.4" r="1.55"/><circle cx="433.3" cy="241.4" r="1.55"/><circle cx="410.6" cy="242.4" r="1.55"/><circle cx="421.9" cy="242.8" r="1.55"/><circle cx="438.0" cy="243.2" r="1.55"/><circle cx="444.8" cy="242.4" r="1.55"/><circle cx="419.6" cy="246.4" r="1.55"/><circle cx="434.4" cy="245.7" r="1.55"/><circle cx="457.3" cy="246.2" r="1.55"/><circle cx="458.2" cy="250.8" r="1.55"/><circle cx="464.5" cy="241.3" r="1.55"/><circle cx="470.2" cy="239.2" r="1.55"/><circle cx="475.5" cy="234.0" r="1.55"/><circle cx="474.4" cy="244.8" r="1.55"/><circle cx="475.2" cy="246.2" r="1.55"/><circle cx="482.7" cy="245.9" r="1.55"/><circle cx="444.8" cy="242.3" r="1.55"/></g>
<g fill="#3c6e58" fill-opacity="0.9"><circle cx="411.8" cy="214.9" r="1.55"/><circle cx="415.2" cy="219.2" r="1.55"/><circle cx="405.1" cy="226.2" r="1.55"/><circle cx="417.6" cy="225.3" r="1.55"/><circle cx="421.2" cy="224.9" r="1.55"/><circle cx="443.8" cy="230.7" r="1.55"/><circle cx="423.4" cy="238.3" r="1.55"/><circle cx="429.0" cy="241.4" r="1.55"/><circle cx="451.2" cy="239.2" r="1.55"/><circle cx="461.3" cy="237.3" r="1.55"/></g>
<g fill="#8874c4" fill-opacity="0.85"><circle cx="80.0" cy="333.5" r="1.55"/><circle cx="74.8" cy="344.4" r="1.55"/><circle cx="90.6" cy="344.6" r="1.55"/><circle cx="93.4" cy="342.1" r="1.55"/><circle cx="114.0" cy="337.5" r="1.55"/><circle cx="125.0" cy="346.6" r="1.55"/><circle cx="102.8" cy="354.1" r="1.55"/><circle cx="110.3" cy="355.3" r="1.55"/><circle cx="111.3" cy="354.4" r="1.55"/><circle cx="118.1" cy="355.6" r="1.55"/><circle cx="122.3" cy="352.8" r="1.55"/><circle cx="106.9" cy="359.4" r="1.55"/><circle cx="108.1" cy="361.0" r="1.55"/><circle cx="112.5" cy="360.6" r="1.55"/><circle cx="114.4" cy="359.4" r="1.55"/><circle cx="130.0" cy="358.1" r="1.55"/><circle cx="132.5" cy="360.3" r="1.55"/><circle cx="94.6" cy="366.3" r="1.55"/><circle cx="100.0" cy="367.3" r="1.55"/><circle cx="105.4" cy="366.6" r="1.55"/><circle cx="109.8" cy="367.3" r="1.55"/><circle cx="102.9" cy="354.3" r="1.55"/><circle cx="110.8" cy="354.8" r="1.55"/><circle cx="118.1" cy="355.6" r="1.55"/><circle cx="122.3" cy="352.7" r="1.55"/><circle cx="138.5" cy="356.0" r="1.55"/><circle cx="143.5" cy="354.0" r="1.55"/><circle cx="100.5" cy="367.5" r="1.55"/><circle cx="105.3" cy="366.5" r="1.55"/><circle cx="130.3" cy="381.3" r="1.55"/><circle cx="184.0" cy="371.2" r="1.55"/><circle cx="184.9" cy="375.2" r="1.55"/><circle cx="188.3" cy="377.9" r="1.55"/><circle cx="155.6" cy="386.5" r="1.55"/><circle cx="156.3" cy="388.5" r="1.55"/><circle cx="160.4" cy="387.0" r="1.55"/><circle cx="171.0" cy="383.2" r="1.55"/><circle cx="172.4" cy="385.4" r="1.55"/><circle cx="107.2" cy="378.8" r="1.55"/><circle cx="113.5" cy="378.8" r="1.55"/><circle cx="104.5" cy="372.0" r="1.55"/><circle cx="103.2" cy="375.5" r="1.55"/><circle cx="141.3" cy="360.2" r="1.55"/><circle cx="142.3" cy="367.0" r="1.55"/><circle cx="145.6" cy="368.6" r="1.55"/><circle cx="145.9" cy="369.8" r="1.55"/><circle cx="155.1" cy="372.4" r="1.55"/><circle cx="129.7" cy="369.1" r="1.55"/><circle cx="113.1" cy="373.0" r="1.55"/><circle cx="109.3" cy="366.4" r="1.55"/><circle cx="182.6" cy="376.2" r="1.55"/><circle cx="154.0" cy="370.1" r="1.55"/><circle cx="118.3" cy="376.2" r="1.55"/><circle cx="110.6" cy="371.2" r="1.55"/><circle cx="120.8" cy="371.1" r="1.55"/><circle cx="142.2" cy="372.8" r="1.55"/><circle cx="140.4" cy="375.0" r="1.55"/><circle cx="155.9" cy="366.5" r="1.55"/><circle cx="145.0" cy="368.4" r="1.55"/><circle cx="127.7" cy="366.5" r="1.55"/><circle cx="183.8" cy="377.0" r="1.55"/><circle cx="161.2" cy="371.6" r="1.55"/><circle cx="130.6" cy="371.8" r="1.55"/><circle cx="111.5" cy="373.7" r="1.55"/><circle cx="165.8" cy="364.6" r="1.55"/><circle cx="136.1" cy="377.3" r="1.55"/><circle cx="180.7" cy="372.3" r="1.55"/><circle cx="122.4" cy="371.0" r="1.55"/><circle cx="137.0" cy="374.2" r="1.55"/><circle cx="111.7" cy="366.7" r="1.55"/><circle cx="127.0" cy="365.0" r="1.55"/><circle cx="112.8" cy="366.3" r="1.55"/><circle cx="165.1" cy="382.6" r="1.55"/><circle cx="115.2" cy="371.0" r="1.55"/><circle cx="110.7" cy="372.4" r="1.55"/><circle cx="168.2" cy="374.6" r="1.55"/><circle cx="140.9" cy="377.6" r="1.55"/><circle cx="120.9" cy="370.8" r="1.55"/><circle cx="156.2" cy="369.0" r="1.55"/><circle cx="115.1" cy="368.6" r="1.55"/><circle cx="127.0" cy="372.8" r="1.55"/><circle cx="181.7" cy="373.1" r="1.55"/><circle cx="175.0" cy="369.0" r="1.55"/><circle cx="122.4" cy="364.0" r="1.55"/><circle cx="156.1" cy="378.1" r="1.55"/><circle cx="113.8" cy="373.5" r="1.55"/><circle cx="126.1" cy="370.9" r="1.55"/><circle cx="166.3" cy="370.1" r="1.55"/><circle cx="111.7" cy="373.4" r="1.55"/><circle cx="113.0" cy="368.5" r="1.55"/><circle cx="152.9" cy="369.8" r="1.55"/><circle cx="135.0" cy="358.7" r="1.55"/><circle cx="143.7" cy="375.5" r="1.55"/><circle cx="150.8" cy="373.9" r="1.55"/><circle cx="118.0" cy="369.0" r="1.55"/><circle cx="176.9" cy="373.4" r="1.55"/><circle cx="120.8" cy="368.0" r="1.55"/><circle cx="163.7" cy="374.9" r="1.55"/><circle cx="180.1" cy="371.5" r="1.55"/><circle cx="174.8" cy="368.9" r="1.55"/><circle cx="114.1" cy="368.5" r="1.55"/><circle cx="109.0" cy="373.0" r="1.55"/><circle cx="161.0" cy="371.0" r="1.55"/><circle cx="126.0" cy="374.1" r="1.55"/><circle cx="128.9" cy="365.2" r="1.55"/><circle cx="119.7" cy="370.7" r="1.55"/><circle cx="123.8" cy="369.4" r="1.55"/><circle cx="149.6" cy="376.1" r="1.55"/><circle cx="127.9" cy="365.7" r="1.55"/><circle cx="177.6" cy="372.4" r="1.55"/><circle cx="127.0" cy="372.0" r="1.55"/><circle cx="140.8" cy="374.6" r="1.55"/><circle cx="134.8" cy="372.5" r="1.55"/><circle cx="150.6" cy="375.1" r="1.55"/><circle cx="175.5" cy="374.9" r="1.55"/><circle cx="182.5" cy="370.0" r="1.55"/><circle cx="151.6" cy="364.9" r="1.55"/><circle cx="116.9" cy="371.7" r="1.55"/><circle cx="177.0" cy="372.4" r="1.55"/><circle cx="160.7" cy="372.9" r="1.55"/><circle cx="155.6" cy="371.5" r="1.55"/><circle cx="143.6" cy="370.9" r="1.55"/><circle cx="183.9" cy="370.2" r="1.55"/><circle cx="111.9" cy="365.4" r="1.55"/><circle cx="176.2" cy="370.4" r="1.55"/><circle cx="163.5" cy="369.4" r="1.55"/><circle cx="177.4" cy="366.1" r="1.55"/><circle cx="133.4" cy="366.9" r="1.55"/><circle cx="173.9" cy="364.2" r="1.55"/><circle cx="138.5" cy="374.1" r="1.55"/><circle cx="150.7" cy="361.4" r="1.55"/><circle cx="154.7" cy="366.6" r="1.55"/><circle cx="153.5" cy="376.4" r="1.55"/><circle cx="112.3" cy="363.7" r="1.55"/><circle cx="174.6" cy="362.6" r="1.55"/><circle cx="162.8" cy="365.8" r="1.55"/><circle cx="151.3" cy="377.3" r="1.55"/><circle cx="140.4" cy="372.6" r="1.55"/><circle cx="164.5" cy="370.2" r="1.55"/><circle cx="108.3" cy="368.1" r="1.55"/><circle cx="124.0" cy="367.9" r="1.55"/><circle cx="160.5" cy="364.9" r="1.55"/><circle cx="177.8" cy="372.3" r="1.55"/><circle cx="126.0" cy="375.2" r="1.55"/><circle cx="158.9" cy="372.1" r="1.55"/><circle cx="121.8" cy="375.9" r="1.55"/><circle cx="157.5" cy="381.6" r="1.55"/><circle cx="140.5" cy="375.2" r="1.55"/><circle cx="157.9" cy="368.9" r="1.55"/><circle cx="121.5" cy="363.6" r="1.55"/><circle cx="177.3" cy="375.0" r="1.55"/><circle cx="174.7" cy="368.3" r="1.55"/><circle cx="130.7" cy="375.7" r="1.55"/><circle cx="116.6" cy="363.2" r="1.55"/><circle cx="172.2" cy="372.3" r="1.55"/><circle cx="161.5" cy="375.7" r="1.55"/><circle cx="119.2" cy="369.9" r="1.55"/><circle cx="141.2" cy="370.9" r="1.55"/><circle cx="138.3" cy="375.1" r="1.55"/><circle cx="154.8" cy="367.2" r="1.55"/><circle cx="171.5" cy="372.2" r="1.55"/><circle cx="182.6" cy="371.3" r="1.55"/><circle cx="108.5" cy="371.1" r="1.55"/><circle cx="174.1" cy="378.2" r="1.55"/><circle cx="150.5" cy="373.8" r="1.55"/><circle cx="130.1" cy="371.5" r="1.55"/><circle cx="116.6" cy="370.2" r="1.55"/><circle cx="141.5" cy="381.4" r="1.55"/><circle cx="124.5" cy="372.5" r="1.55"/><circle cx="117.0" cy="376.5" r="1.55"/><circle cx="140.8" cy="373.7" r="1.55"/><circle cx="155.1" cy="366.4" r="1.55"/><circle cx="180.8" cy="367.7" r="1.55"/><circle cx="159.4" cy="373.6" r="1.55"/><circle cx="119.9" cy="375.8" r="1.55"/><circle cx="106.8" cy="366.7" r="1.55"/><circle cx="120.0" cy="372.2" r="1.55"/><circle cx="127.2" cy="366.9" r="1.55"/><circle cx="146.6" cy="378.4" r="1.55"/><circle cx="153.9" cy="371.9" r="1.55"/><circle cx="167.8" cy="367.4" r="1.55"/><circle cx="176.7" cy="379.5" r="1.55"/><circle cx="162.3" cy="377.9" r="1.55"/><circle cx="116.1" cy="365.6" r="1.55"/><circle cx="177.0" cy="373.7" r="1.55"/><circle cx="135.4" cy="361.6" r="1.55"/><circle cx="168.1" cy="368.1" r="1.55"/><circle cx="179.7" cy="367.6" r="1.55"/><circle cx="122.0" cy="372.6" r="1.55"/><circle cx="162.3" cy="374.8" r="1.55"/><circle cx="162.0" cy="365.4" r="1.55"/><circle cx="122.6" cy="381.6" r="1.55"/><circle cx="182.2" cy="367.7" r="1.55"/><circle cx="147.9" cy="372.8" r="1.55"/><circle cx="177.0" cy="369.1" r="1.55"/><circle cx="172.8" cy="371.1" r="1.55"/><circle cx="140.4" cy="373.3" r="1.55"/><circle cx="148.9" cy="372.3" r="1.55"/><circle cx="108.2" cy="367.5" r="1.55"/><circle cx="169.1" cy="379.4" r="1.55"/><circle cx="119.5" cy="374.1" r="1.55"/><circle cx="132.1" cy="372.0" r="1.55"/><circle cx="117.6" cy="368.8" r="1.55"/><circle cx="146.3" cy="369.9" r="1.55"/><circle cx="159.8" cy="362.3" r="1.55"/><circle cx="179.8" cy="364.4" r="1.55"/><circle cx="112.7" cy="371.3" r="1.55"/><circle cx="123.3" cy="367.3" r="1.55"/><circle cx="162.8" cy="371.2" r="1.55"/><circle cx="155.8" cy="361.8" r="1.55"/><circle cx="149.7" cy="370.2" r="1.55"/><circle cx="130.3" cy="364.1" r="1.55"/><circle cx="176.2" cy="377.1" r="1.55"/><circle cx="122.2" cy="378.2" r="1.55"/><circle cx="146.9" cy="360.2" r="1.55"/><circle cx="150.7" cy="373.7" r="1.55"/><circle cx="145.2" cy="377.9" r="1.55"/><circle cx="146.2" cy="374.0" r="1.55"/><circle cx="137.2" cy="373.5" r="1.55"/><circle cx="144.3" cy="365.0" r="1.55"/><circle cx="159.9" cy="377.6" r="1.55"/><circle cx="138.3" cy="374.1" r="1.55"/><circle cx="180.6" cy="374.5" r="1.55"/><circle cx="142.9" cy="369.5" r="1.55"/><circle cx="115.9" cy="364.2" r="1.55"/><circle cx="176.2" cy="375.0" r="1.55"/><circle cx="143.2" cy="370.1" r="1.55"/><circle cx="154.2" cy="374.9" r="1.55"/><circle cx="178.2" cy="376.4" r="1.55"/><circle cx="107.8" cy="374.3" r="1.55"/><circle cx="121.1" cy="372.0" r="1.55"/><circle cx="131.1" cy="379.0" r="1.55"/><circle cx="133.7" cy="369.5" r="1.55"/><circle cx="163.0" cy="370.3" r="1.55"/><circle cx="115.6" cy="367.9" r="1.55"/><circle cx="121.4" cy="370.8" r="1.55"/><circle cx="147.4" cy="366.8" r="1.55"/><circle cx="138.2" cy="373.4" r="1.55"/><circle cx="147.3" cy="373.5" r="1.55"/><circle cx="155.2" cy="374.7" r="1.55"/><circle cx="155.8" cy="361.8" r="1.55"/><circle cx="153.7" cy="369.8" r="1.55"/><circle cx="172.8" cy="372.9" r="1.55"/><circle cx="169.2" cy="379.3" r="1.55"/><circle cx="176.4" cy="370.9" r="1.55"/><circle cx="178.0" cy="375.0" r="1.55"/><circle cx="123.0" cy="380.8" r="1.55"/><circle cx="116.4" cy="370.9" r="1.55"/><circle cx="124.7" cy="370.6" r="1.55"/><circle cx="113.6" cy="368.0" r="1.55"/><circle cx="170.9" cy="365.4" r="1.55"/><circle cx="115.8" cy="374.3" r="1.55"/><circle cx="137.4" cy="371.0" r="1.55"/><circle cx="121.7" cy="370.3" r="1.55"/><circle cx="159.2" cy="383.2" r="1.55"/><circle cx="115.0" cy="365.5" r="1.55"/><circle cx="145.4" cy="371.9" r="1.55"/><circle cx="159.5" cy="365.9" r="1.55"/><circle cx="120.7" cy="373.0" r="1.55"/><circle cx="108.9" cy="371.4" r="1.55"/><circle cx="149.0" cy="364.7" r="1.55"/><circle cx="117.4" cy="370.5" r="1.55"/><circle cx="120.4" cy="373.5" r="1.55"/><circle cx="183.2" cy="377.1" r="1.55"/><circle cx="178.3" cy="373.3" r="1.55"/><circle cx="180.2" cy="372.9" r="1.55"/><circle cx="142.0" cy="371.9" r="1.55"/><circle cx="142.4" cy="366.7" r="1.55"/><circle cx="146.2" cy="365.0" r="1.55"/><circle cx="107.0" cy="372.3" r="1.55"/><circle cx="160.7" cy="373.6" r="1.55"/><circle cx="141.4" cy="368.7" r="1.55"/><circle cx="163.7" cy="369.3" r="1.55"/><circle cx="118.9" cy="372.6" r="1.55"/><circle cx="146.0" cy="382.9" r="1.55"/><circle cx="168.5" cy="373.0" r="1.55"/><circle cx="161.0" cy="376.4" r="1.55"/><circle cx="137.6" cy="365.7" r="1.55"/><circle cx="168.8" cy="371.7" r="1.55"/><circle cx="126.1" cy="378.0" r="1.55"/><circle cx="166.7" cy="367.9" r="1.55"/><circle cx="169.5" cy="364.2" r="1.55"/><circle cx="174.6" cy="376.9" r="1.55"/><circle cx="160.2" cy="372.8" r="1.55"/><circle cx="137.6" cy="362.4" r="1.55"/><circle cx="162.4" cy="376.0" r="1.55"/><circle cx="142.6" cy="373.6" r="1.55"/><circle cx="106.8" cy="368.5" r="1.55"/><circle cx="154.7" cy="377.6" r="1.55"/><circle cx="124.1" cy="377.7" r="1.55"/><circle cx="132.3" cy="368.7" r="1.55"/><circle cx="157.5" cy="366.0" r="1.55"/><circle cx="136.4" cy="368.6" r="1.55"/><circle cx="184.0" cy="370.0" r="1.55"/><circle cx="165.4" cy="366.2" r="1.55"/><circle cx="182.4" cy="376.1" r="1.55"/><circle cx="163.6" cy="372.9" r="1.55"/><circle cx="126.0" cy="369.9" r="1.55"/><circle cx="121.2" cy="371.9" r="1.55"/><circle cx="135.3" cy="374.6" r="1.55"/><circle cx="176.6" cy="373.8" r="1.55"/><circle cx="150.3" cy="371.0" r="1.55"/><circle cx="183.6" cy="369.4" r="1.55"/><circle cx="111.9" cy="366.0" r="1.55"/><circle cx="152.6" cy="371.8" r="1.55"/><circle cx="178.6" cy="371.2" r="1.55"/><circle cx="118.5" cy="368.4" r="1.55"/><circle cx="144.7" cy="372.1" r="1.55"/><circle cx="153.7" cy="383.6" r="1.55"/><circle cx="138.8" cy="376.0" r="1.55"/><circle cx="147.1" cy="367.4" r="1.55"/><circle cx="128.3" cy="368.5" r="1.55"/><circle cx="157.1" cy="367.9" r="1.55"/><circle cx="161.9" cy="370.4" r="1.55"/><circle cx="129.1" cy="375.0" r="1.55"/><circle cx="109.3" cy="371.0" r="1.55"/><circle cx="118.2" cy="371.1" r="1.55"/><circle cx="176.0" cy="368.4" r="1.55"/><circle cx="179.7" cy="375.3" r="1.55"/><circle cx="111.7" cy="373.9" r="1.55"/><circle cx="143.3" cy="368.3" r="1.55"/><circle cx="181.9" cy="372.4" r="1.55"/><circle cx="179.1" cy="376.3" r="1.55"/><circle cx="169.7" cy="374.5" r="1.55"/><circle cx="153.1" cy="377.3" r="1.55"/><circle cx="141.5" cy="376.4" r="1.55"/><circle cx="121.9" cy="376.4" r="1.55"/><circle cx="115.7" cy="372.5" r="1.55"/><circle cx="140.5" cy="368.5" r="1.55"/><circle cx="126.4" cy="366.5" r="1.55"/><circle cx="151.4" cy="363.6" r="1.55"/><circle cx="147.4" cy="376.1" r="1.55"/><circle cx="183.8" cy="376.2" r="1.55"/><circle cx="124.6" cy="368.9" r="1.55"/><circle cx="114.9" cy="376.3" r="1.55"/><circle cx="154.7" cy="366.0" r="1.55"/><circle cx="134.0" cy="370.3" r="1.55"/><circle cx="150.1" cy="379.7" r="1.55"/><circle cx="152.2" cy="365.8" r="1.55"/><circle cx="120.8" cy="365.5" r="1.55"/><circle cx="125.4" cy="381.7" r="1.55"/><circle cx="174.5" cy="371.0" r="1.55"/><circle cx="109.1" cy="373.1" r="1.55"/><circle cx="139.2" cy="373.0" r="1.55"/><circle cx="154.6" cy="377.0" r="1.55"/><circle cx="111.7" cy="373.5" r="1.55"/><circle cx="112.7" cy="368.8" r="1.55"/><circle cx="155.2" cy="365.8" r="1.55"/><circle cx="135.1" cy="367.8" r="1.55"/><circle cx="132.8" cy="371.8" r="1.55"/><circle cx="164.1" cy="372.9" r="1.55"/><circle cx="115.3" cy="369.6" r="1.55"/><circle cx="169.1" cy="366.6" r="1.55"/><circle cx="122.6" cy="365.6" r="1.55"/><circle cx="139.1" cy="370.9" r="1.55"/><circle cx="134.8" cy="380.8" r="1.55"/><circle cx="157.0" cy="376.4" r="1.55"/><circle cx="148.8" cy="371.3" r="1.55"/><circle cx="164.2" cy="376.4" r="1.55"/><circle cx="134.8" cy="368.7" r="1.55"/><circle cx="113.6" cy="372.0" r="1.55"/><circle cx="112.5" cy="369.9" r="1.55"/><circle cx="139.0" cy="344.0" r="1.55"/></g>
<g fill="#5ba6de" fill-opacity="0.9"><circle cx="287.5" cy="341.9" r="1.55"/><circle cx="260.4" cy="361.3" r="1.55"/><circle cx="256.9" cy="363.1" r="1.55"/><circle cx="256.5" cy="365.6" r="1.55"/><circle cx="263.8" cy="363.8" r="1.55"/><circle cx="265.6" cy="368.1" r="1.55"/><circle cx="270.6" cy="361.3" r="1.55"/><circle cx="270.6" cy="366.3" r="1.55"/><circle cx="272.5" cy="364.8" r="1.55"/><circle cx="278.8" cy="371.3" r="1.55"/><circle cx="256.9" cy="375.6" r="1.55"/><circle cx="268.1" cy="373.8" r="1.55"/><circle cx="266.3" cy="376.5" r="1.55"/><circle cx="271.9" cy="378.1" r="1.55"/><circle cx="276.9" cy="376.0" r="1.55"/><circle cx="280.0" cy="377.3" r="1.55"/><circle cx="287.5" cy="374.4" r="1.55"/><circle cx="289.4" cy="382.5" r="1.55"/><circle cx="297.5" cy="363.0" r="1.55"/><circle cx="300.2" cy="367.7" r="1.55"/><circle cx="301.5" cy="366.3" r="1.55"/><circle cx="288.7" cy="374.4" r="1.55"/><circle cx="290.8" cy="375.1" r="1.55"/><circle cx="292.8" cy="375.8" r="1.55"/><circle cx="280.7" cy="377.1" r="1.55"/><circle cx="289.7" cy="381.8" r="1.55"/><circle cx="301.5" cy="373.1" r="1.55"/><circle cx="301.5" cy="377.8" r="1.55"/><circle cx="308.3" cy="380.5" r="1.55"/><circle cx="313.0" cy="377.8" r="1.55"/><circle cx="320.4" cy="375.8" r="1.55"/><circle cx="284.5" cy="375.5" r="1.55"/><circle cx="286.0" cy="377.0" r="1.55"/></g>
<g fill="#353a4e" fill-opacity="0.9"><circle cx="282.3" cy="340.3" r="1.55"/><circle cx="276.9" cy="355.3" r="1.55"/><circle cx="249.0" cy="366.3" r="1.55"/><circle cx="260.6" cy="366.3" r="1.55"/><circle cx="265.6" cy="364.8" r="1.55"/><circle cx="262.8" cy="370.3" r="1.55"/><circle cx="274.4" cy="365.3" r="1.55"/><circle cx="274.8" cy="362.5" r="1.55"/><circle cx="286.0" cy="363.1" r="1.55"/><circle cx="289.0" cy="366.5" r="1.55"/><circle cx="282.3" cy="372.3" r="1.55"/><circle cx="286.3" cy="371.3" r="1.55"/><circle cx="261.9" cy="376.3" r="1.55"/><circle cx="267.5" cy="375.0" r="1.55"/><circle cx="267.5" cy="378.5" r="1.55"/><circle cx="263.1" cy="380.0" r="1.55"/><circle cx="286.1" cy="363.0" r="1.55"/><circle cx="290.1" cy="365.7" r="1.55"/><circle cx="292.1" cy="366.3" r="1.55"/><circle cx="282.4" cy="372.0" r="1.55"/><circle cx="286.7" cy="371.0" r="1.55"/><circle cx="296.8" cy="370.4" r="1.55"/><circle cx="295.5" cy="373.1" r="1.55"/><circle cx="297.5" cy="381.1" r="1.55"/><circle cx="299.5" cy="380.5" r="1.55"/><circle cx="300.9" cy="362.3" r="1.55"/><circle cx="319.0" cy="361.6" r="1.55"/><circle cx="307.6" cy="371.0" r="1.55"/><circle cx="306.2" cy="377.1" r="1.55"/><circle cx="330.5" cy="365.7" r="1.55"/><circle cx="336.5" cy="363.0" r="1.55"/><circle cx="339.9" cy="371.0" r="1.55"/><circle cx="334.5" cy="371.0" r="1.55"/><circle cx="341.2" cy="375.8" r="1.55"/><circle cx="345.7" cy="376.4" r="1.55"/><circle cx="319.0" cy="382.5" r="1.55"/><circle cx="331.8" cy="381.8" r="1.55"/><circle cx="313.6" cy="372.2" r="1.55"/><circle cx="331.8" cy="373.7" r="1.55"/><circle cx="308.2" cy="369.4" r="1.55"/><circle cx="329.4" cy="369.3" r="1.55"/><circle cx="323.8" cy="373.6" r="1.55"/><circle cx="312.3" cy="370.8" r="1.55"/><circle cx="313.9" cy="369.0" r="1.55"/><circle cx="305.8" cy="368.4" r="1.55"/><circle cx="339.3" cy="378.8" r="1.55"/><circle cx="319.4" cy="373.9" r="1.55"/><circle cx="342.7" cy="377.5" r="1.55"/><circle cx="307.4" cy="367.1" r="1.55"/><circle cx="330.1" cy="371.1" r="1.55"/><circle cx="317.9" cy="369.5" r="1.55"/><circle cx="329.7" cy="369.3" r="1.55"/><circle cx="339.3" cy="374.3" r="1.55"/><circle cx="307.4" cy="368.3" r="1.55"/><circle cx="340.9" cy="374.3" r="1.55"/><circle cx="340.9" cy="376.2" r="1.55"/><circle cx="327.0" cy="372.0" r="1.55"/><circle cx="315.9" cy="362.8" r="1.55"/><circle cx="318.6" cy="372.9" r="1.55"/><circle cx="334.0" cy="373.2" r="1.55"/><circle cx="308.7" cy="367.6" r="1.55"/><circle cx="341.1" cy="372.3" r="1.55"/><circle cx="337.1" cy="373.0" r="1.55"/><circle cx="310.7" cy="369.7" r="1.55"/><circle cx="325.1" cy="371.1" r="1.55"/><circle cx="339.3" cy="375.7" r="1.55"/><circle cx="324.3" cy="371.7" r="1.55"/><circle cx="314.3" cy="367.9" r="1.55"/><circle cx="305.5" cy="367.6" r="1.55"/><circle cx="321.1" cy="374.6" r="1.55"/><circle cx="319.3" cy="375.9" r="1.55"/><circle cx="311.7" cy="363.6" r="1.55"/><circle cx="320.1" cy="374.7" r="1.55"/><circle cx="342.0" cy="379.3" r="1.55"/><circle cx="312.7" cy="370.4" r="1.55"/><circle cx="305.5" cy="366.7" r="1.55"/><circle cx="334.0" cy="373.4" r="1.55"/><circle cx="321.6" cy="374.1" r="1.55"/><circle cx="313.8" cy="366.9" r="1.55"/><circle cx="320.9" cy="374.3" r="1.55"/><circle cx="327.4" cy="372.8" r="1.55"/><circle cx="308.2" cy="370.4" r="1.55"/><circle cx="309.0" cy="366.5" r="1.55"/><circle cx="335.7" cy="374.5" r="1.55"/><circle cx="324.2" cy="369.5" r="1.55"/><circle cx="307.4" cy="361.6" r="1.55"/><circle cx="305.6" cy="370.1" r="1.55"/><circle cx="326.8" cy="376.3" r="1.55"/><circle cx="333.3" cy="368.6" r="1.55"/><circle cx="305.1" cy="373.0" r="1.55"/><circle cx="336.8" cy="376.9" r="1.55"/><circle cx="306.3" cy="373.6" r="1.55"/><circle cx="341.7" cy="376.7" r="1.55"/><circle cx="327.0" cy="360.5" r="1.55"/><circle cx="311.8" cy="373.6" r="1.55"/><circle cx="308.2" cy="368.6" r="1.55"/><circle cx="328.0" cy="368.7" r="1.55"/><circle cx="310.9" cy="369.8" r="1.55"/><circle cx="309.6" cy="366.4" r="1.55"/><circle cx="309.8" cy="367.8" r="1.55"/><circle cx="321.7" cy="371.0" r="1.55"/><circle cx="322.9" cy="365.7" r="1.55"/><circle cx="320.0" cy="369.8" r="1.55"/><circle cx="312.5" cy="372.0" r="1.55"/><circle cx="322.0" cy="377.3" r="1.55"/><circle cx="331.9" cy="378.1" r="1.55"/><circle cx="328.2" cy="377.3" r="1.55"/><circle cx="321.4" cy="372.5" r="1.55"/><circle cx="308.5" cy="374.1" r="1.55"/><circle cx="324.1" cy="371.1" r="1.55"/><circle cx="331.8" cy="375.0" r="1.55"/><circle cx="325.0" cy="375.6" r="1.55"/><circle cx="333.3" cy="374.2" r="1.55"/><circle cx="328.3" cy="373.0" r="1.55"/><circle cx="339.5" cy="375.5" r="1.55"/><circle cx="342.3" cy="371.1" r="1.55"/><circle cx="313.5" cy="369.0" r="1.55"/><circle cx="342.1" cy="379.2" r="1.55"/><circle cx="319.0" cy="378.9" r="1.55"/><circle cx="324.6" cy="369.7" r="1.55"/><circle cx="328.8" cy="380.4" r="1.55"/><circle cx="316.2" cy="369.0" r="1.55"/><circle cx="337.1" cy="376.3" r="1.55"/><circle cx="341.4" cy="378.5" r="1.55"/><circle cx="337.2" cy="374.2" r="1.55"/><circle cx="328.3" cy="376.6" r="1.55"/><circle cx="337.0" cy="372.1" r="1.55"/><circle cx="332.7" cy="366.0" r="1.55"/><circle cx="336.2" cy="372.5" r="1.55"/><circle cx="321.2" cy="369.5" r="1.55"/><circle cx="323.6" cy="364.5" r="1.55"/><circle cx="315.2" cy="369.3" r="1.55"/></g>
<g fill="#c0712a" fill-opacity="0.9"><circle cx="408.4" cy="321.9" r="1.55"/><circle cx="402.8" cy="326.0" r="1.55"/><circle cx="412.8" cy="327.8" r="1.55"/><circle cx="408.0" cy="330.0" r="1.55"/><circle cx="391.4" cy="330.0" r="1.55"/><circle cx="423.3" cy="330.4" r="1.55"/><circle cx="408.4" cy="338.1" r="1.55"/><circle cx="402.0" cy="339.8" r="1.55"/><circle cx="415.5" cy="341.3" r="1.55"/><circle cx="417.4" cy="342.3" r="1.55"/><circle cx="399.3" cy="343.8" r="1.55"/><circle cx="399.0" cy="344.4" r="1.55"/><circle cx="399.3" cy="345.6" r="1.55"/><circle cx="400.3" cy="349.4" r="1.55"/><circle cx="397.0" cy="351.0" r="1.55"/><circle cx="406.4" cy="347.5" r="1.55"/><circle cx="407.6" cy="350.4" r="1.55"/><circle cx="412.4" cy="346.5" r="1.55"/><circle cx="426.1" cy="348.1" r="1.55"/><circle cx="425.5" cy="349.4" r="1.55"/><circle cx="413.0" cy="355.0" r="1.55"/><circle cx="417.4" cy="355.0" r="1.55"/><circle cx="419.3" cy="356.3" r="1.55"/><circle cx="421.1" cy="353.1" r="1.55"/><circle cx="425.5" cy="353.1" r="1.55"/><circle cx="399.3" cy="356.9" r="1.55"/><circle cx="423.0" cy="358.1" r="1.55"/><circle cx="424.9" cy="358.8" r="1.55"/><circle cx="411.1" cy="362.5" r="1.55"/><circle cx="411.5" cy="364.8" r="1.55"/><circle cx="414.9" cy="361.3" r="1.55"/><circle cx="418.6" cy="361.9" r="1.55"/><circle cx="423.6" cy="363.8" r="1.55"/><circle cx="429.3" cy="361.9" r="1.55"/><circle cx="431.8" cy="358.8" r="1.55"/><circle cx="434.3" cy="361.3" r="1.55"/><circle cx="433.6" cy="365.6" r="1.55"/><circle cx="406.1" cy="367.3" r="1.55"/><circle cx="411.1" cy="368.1" r="1.55"/><circle cx="415.8" cy="368.8" r="1.55"/><circle cx="421.5" cy="367.5" r="1.55"/><circle cx="423.5" cy="369.5" r="1.55"/><circle cx="425.5" cy="371.0" r="1.55"/><circle cx="418.6" cy="374.4" r="1.55"/><circle cx="420.5" cy="375.0" r="1.55"/><circle cx="423.0" cy="372.5" r="1.55"/><circle cx="426.1" cy="373.1" r="1.55"/><circle cx="421.1" cy="376.9" r="1.55"/><circle cx="428.0" cy="379.8" r="1.55"/><circle cx="435.5" cy="373.8" r="1.55"/><circle cx="434.5" cy="370.6" r="1.55"/><circle cx="436.8" cy="378.8" r="1.55"/><circle cx="439.0" cy="379.8" r="1.55"/><circle cx="439.9" cy="361.3" r="1.55"/><circle cx="440.5" cy="365.6" r="1.55"/><circle cx="447.4" cy="363.8" r="1.55"/><circle cx="447.4" cy="375.6" r="1.55"/><circle cx="440.6" cy="360.6" r="1.55"/><circle cx="450.0" cy="359.4" r="1.55"/><circle cx="457.5" cy="359.8" r="1.55"/><circle cx="447.8" cy="363.8" r="1.55"/><circle cx="440.6" cy="366.3" r="1.55"/><circle cx="453.8" cy="369.4" r="1.55"/><circle cx="456.3" cy="370.0" r="1.55"/><circle cx="463.1" cy="366.3" r="1.55"/><circle cx="463.1" cy="370.0" r="1.55"/><circle cx="447.5" cy="375.0" r="1.55"/><circle cx="448.8" cy="378.1" r="1.55"/><circle cx="457.5" cy="376.9" r="1.55"/><circle cx="459.4" cy="374.4" r="1.55"/><circle cx="463.1" cy="378.1" r="1.55"/><circle cx="453.1" cy="387.5" r="1.55"/><circle cx="487.5" cy="366.0" r="1.55"/><circle cx="485.6" cy="374.4" r="1.55"/><circle cx="485.6" cy="379.0" r="1.55"/><circle cx="440.0" cy="379.4" r="1.55"/><circle cx="419.5" cy="371.5" r="1.55"/><circle cx="422.0" cy="370.0" r="1.55"/><circle cx="417.0" cy="372.0" r="1.55"/></g>
<g fill="#d9369b" fill-opacity="0.9"><circle cx="403.0" cy="325.6" r="1.55"/><circle cx="403.6" cy="341.5" r="1.55"/><circle cx="408.6" cy="341.3" r="1.55"/><circle cx="437.4" cy="339.4" r="1.55"/><circle cx="442.8" cy="339.8" r="1.55"/><circle cx="414.9" cy="351.3" r="1.55"/><circle cx="420.3" cy="356.0" r="1.55"/><circle cx="423.3" cy="360.6" r="1.55"/><circle cx="430.3" cy="348.4" r="1.55"/><circle cx="443.6" cy="357.5" r="1.55"/><circle cx="443.0" cy="363.5" r="1.55"/><circle cx="439.5" cy="365.0" r="1.55"/><circle cx="439.5" cy="370.0" r="1.55"/><circle cx="434.0" cy="371.0" r="1.55"/><circle cx="442.5" cy="339.8" r="1.55"/><circle cx="453.5" cy="340.4" r="1.55"/><circle cx="459.4" cy="350.0" r="1.55"/><circle cx="443.8" cy="357.3" r="1.55"/><circle cx="466.3" cy="356.0" r="1.55"/><circle cx="465.6" cy="359.4" r="1.55"/><circle cx="443.1" cy="363.5" r="1.55"/><circle cx="440.6" cy="370.0" r="1.55"/><circle cx="450.6" cy="368.1" r="1.55"/><circle cx="460.6" cy="364.8" r="1.55"/><circle cx="465.6" cy="374.4" r="1.55"/><circle cx="458.1" cy="381.3" r="1.55"/><circle cx="474.0" cy="365.4" r="1.55"/><circle cx="475.0" cy="369.4" r="1.55"/><circle cx="474.0" cy="374.0" r="1.55"/><circle cx="476.5" cy="377.3" r="1.55"/><circle cx="476.3" cy="379.4" r="1.55"/><circle cx="483.1" cy="367.3" r="1.55"/><circle cx="482.5" cy="371.9" r="1.55"/><circle cx="488.1" cy="376.5" r="1.55"/></g>
<text x="196.40" y="53.00" font-size="9.2" fill="#a8283a" text-anchor="end" textLength="58.70" lengthAdjust="spacingAndGlyphs" stroke="#a8283a" stroke-width="0.1"><tspan dy="0" font-style="italic">MYC</tspan><tspan font-size="6.62" dy="-3.4" font-style="normal">Tr</tspan><tspan dy="3.4" font-style="italic"> / BCL2</tspan><tspan font-size="6.62" dy="-3.4" font-style="normal">Tr</tspan></text>
<text x="196.20" y="185.00" font-size="9.2" fill="#3b5796" text-anchor="end" textLength="75.00" lengthAdjust="spacingAndGlyphs" stroke="#3b5796" stroke-width="0.1"><tspan dy="0" font-style="italic">MYC</tspan><tspan font-size="6.62" dy="-3.4" font-style="normal">CNV</tspan><tspan dy="3.4" font-style="italic"> / BCL2</tspan><tspan font-size="6.62" dy="-3.4" font-style="normal">CNV</tspan></text>
<text x="351.00" y="184.70" font-size="9.2" fill="#5a3288" text-anchor="end" textLength="67.20" lengthAdjust="spacingAndGlyphs" stroke="#5a3288" stroke-width="0.1"><tspan dy="0" font-style="italic">MYC</tspan><tspan font-size="6.62" dy="-3.4" font-style="normal">Tr</tspan><tspan dy="3.4" font-style="italic"> / BCL2</tspan><tspan font-size="6.62" dy="-3.4" font-style="normal">Gain</tspan></text>
<text x="355.20" y="197.20" font-size="9.2" fill="#6aaa4c" text-anchor="end" textLength="71.40" lengthAdjust="spacingAndGlyphs" stroke="#6aaa4c" stroke-width="0.1"><tspan dy="0" font-style="italic">MYC</tspan><tspan font-size="6.62" dy="-3.4" font-style="normal">Tr</tspan><tspan dy="3.4" font-style="italic"> / BCL2</tspan><tspan font-size="6.62" dy="-3.4" font-style="normal">Gain+</tspan></text>
<text x="507.50" y="185.00" font-size="9.2" fill="#e0952e" text-anchor="end" textLength="66.30" lengthAdjust="spacingAndGlyphs" stroke="#e0952e" stroke-width="0.1"><tspan dy="0" font-style="italic">MYC</tspan><tspan font-size="6.62" dy="-3.4" font-style="normal">Gain</tspan><tspan dy="3.4" font-style="italic"> / BCL2</tspan><tspan font-size="6.62" dy="-3.4" font-style="normal">Tr</tspan></text>
<text x="509.80" y="196.90" font-size="9.2" fill="#3f6e5c" text-anchor="end" textLength="71.00" lengthAdjust="spacingAndGlyphs" stroke="#3f6e5c" stroke-width="0.1"><tspan dy="0" font-style="italic">MYC</tspan><tspan font-size="6.62" dy="-3.4" font-style="normal">Gain+</tspan><tspan dy="3.4" font-style="italic"> / BCL2</tspan><tspan font-size="6.62" dy="-3.4" font-style="normal">Tr</tspan></text>
<text x="204.30" y="313.00" font-size="9.2" fill="#8a7cc8" text-anchor="end" textLength="91.60" lengthAdjust="spacingAndGlyphs" stroke="#8a7cc8" stroke-width="0.1"><tspan dy="0" font-style="italic">MYC</tspan><tspan font-size="6.62" dy="-3.4" font-style="normal">Normal</tspan><tspan dy="3.4" font-style="italic"> / BCL2</tspan><tspan font-size="6.62" dy="-3.4" font-style="normal">Normal</tspan></text>
<text x="358.80" y="313.40" font-size="9.2" fill="#4f9fdc" text-anchor="end" textLength="83.00" lengthAdjust="spacingAndGlyphs" stroke="#4f9fdc" stroke-width="0.1"><tspan dy="0" font-style="italic">MYC</tspan><tspan font-size="6.62" dy="-3.4" font-style="normal">CNV</tspan><tspan dy="3.4" font-style="italic"> / BCL2</tspan><tspan font-size="6.62" dy="-3.4" font-style="normal">Normal</tspan></text>
<text x="359.40" y="325.90" font-size="9.2" fill="#3a3c4c" text-anchor="end" textLength="83.60" lengthAdjust="spacingAndGlyphs" stroke="#3a3c4c" stroke-width="0.1"><tspan dy="0" font-style="italic">MYC</tspan><tspan font-size="6.62" dy="-3.4" font-style="normal">Normal</tspan><tspan dy="3.4" font-style="italic"> / BCL2</tspan><tspan font-size="6.62" dy="-3.4" font-style="normal">CNV</tspan></text>
<text x="511.90" y="313.40" font-size="9.2" fill="#d42a98" text-anchor="end" textLength="75.00" lengthAdjust="spacingAndGlyphs" stroke="#d42a98" stroke-width="0.1"><tspan dy="0" font-style="italic">MYC</tspan><tspan font-size="6.62" dy="-3.4" font-style="normal">Tr</tspan><tspan dy="3.4" font-style="italic"> / BCL2</tspan><tspan font-size="6.62" dy="-3.4" font-style="normal">Normal</tspan></text>
<text x="511.90" y="325.90" font-size="9.2" fill="#b8783a" text-anchor="end" textLength="75.00" lengthAdjust="spacingAndGlyphs" stroke="#b8783a" stroke-width="0.1"><tspan dy="0" font-style="italic">MYC</tspan><tspan font-size="6.62" dy="-3.4" font-style="normal">Normal</tspan><tspan dy="3.4" font-style="italic"> / BCL2</tspan><tspan font-size="6.62" dy="-3.4" font-style="normal">Tr</tspan></text>
<line x1="70.50" y1="96.80" x2="194.00" y2="96.80" stroke="#2a2a2a" stroke-width="1.1" stroke-dasharray="3.3,2.6"/>
<line x1="139.80" y1="138.30" x2="139.80" y2="96.80" stroke="#2a2a2a" stroke-width="1.15" stroke-dasharray="3.3,2.6"/>
<line x1="150.10" y1="138.30" x2="150.10" y2="96.80" stroke="#2a2a2a" stroke-width="1.15" stroke-dasharray="3.3,2.6"/>
<line x1="70.50" y1="227.30" x2="194.00" y2="227.30" stroke="#2a2a2a" stroke-width="1.1" stroke-dasharray="3.3,2.6"/>
<line x1="139.80" y1="268.70" x2="139.80" y2="227.30" stroke="#2a2a2a" stroke-width="1.15" stroke-dasharray="3.3,2.6"/>
<line x1="150.10" y1="268.70" x2="150.10" y2="227.30" stroke="#2a2a2a" stroke-width="1.15" stroke-dasharray="3.3,2.6"/>
<line x1="223.60" y1="227.30" x2="347.50" y2="227.30" stroke="#2a2a2a" stroke-width="1.1" stroke-dasharray="3.3,2.6"/>
<line x1="292.90" y1="268.70" x2="292.90" y2="227.30" stroke="#2a2a2a" stroke-width="1.15" stroke-dasharray="3.3,2.6"/>
<line x1="303.40" y1="268.70" x2="303.40" y2="227.30" stroke="#2a2a2a" stroke-width="1.15" stroke-dasharray="3.3,2.6"/>
<line x1="382.30" y1="227.30" x2="505.80" y2="227.30" stroke="#2a2a2a" stroke-width="1.1" stroke-dasharray="3.3,2.6"/>
<line x1="451.60" y1="268.70" x2="451.60" y2="227.30" stroke="#2a2a2a" stroke-width="1.15" stroke-dasharray="3.3,2.6"/>
<line x1="461.90" y1="268.70" x2="461.90" y2="227.30" stroke="#2a2a2a" stroke-width="1.15" stroke-dasharray="3.3,2.6"/>
<line x1="70.50" y1="359.40" x2="194.00" y2="359.40" stroke="#2a2a2a" stroke-width="1.1" stroke-dasharray="3.3,2.6"/>
<line x1="139.80" y1="402.70" x2="139.80" y2="359.40" stroke="#2a2a2a" stroke-width="1.15" stroke-dasharray="3.3,2.6"/>
<line x1="150.10" y1="402.70" x2="150.10" y2="359.40" stroke="#2a2a2a" stroke-width="1.15" stroke-dasharray="3.3,2.6"/>
<line x1="223.60" y1="359.40" x2="347.50" y2="359.40" stroke="#2a2a2a" stroke-width="1.1" stroke-dasharray="3.3,2.6"/>
<line x1="292.90" y1="402.70" x2="292.90" y2="359.40" stroke="#2a2a2a" stroke-width="1.15" stroke-dasharray="3.3,2.6"/>
<line x1="303.40" y1="402.70" x2="303.40" y2="359.40" stroke="#2a2a2a" stroke-width="1.15" stroke-dasharray="3.3,2.6"/>
<line x1="382.30" y1="359.40" x2="505.80" y2="359.40" stroke="#2a2a2a" stroke-width="1.1" stroke-dasharray="3.3,2.6"/>
<line x1="451.60" y1="402.70" x2="451.60" y2="359.40" stroke="#2a2a2a" stroke-width="1.15" stroke-dasharray="3.3,2.6"/>
<line x1="461.90" y1="402.70" x2="461.90" y2="359.40" stroke="#2a2a2a" stroke-width="1.15" stroke-dasharray="3.3,2.6"/>
</svg>
</body></html>
